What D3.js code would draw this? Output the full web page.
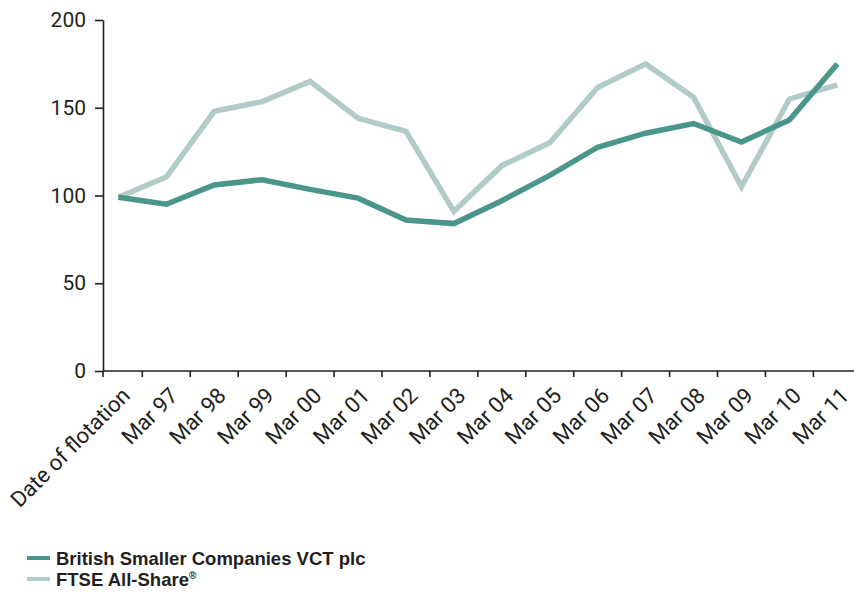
<!DOCTYPE html>
<html>
<head>
<meta charset="utf-8">
<script src="https://cdn.jsdelivr.net/npm/d3@7"></script>
<style>
  body { margin: 0; background: #fff; }
  svg { display: block; }
</style>
</head>
<body>
<div id="chart"></div>
<script>
// categories along the x axis
var categories = ["Date of flotation", "Mar 97", "Mar 98", "Mar 99", "Mar 00", "Mar 01", "Mar 02",
  "Mar 03", "Mar 04", "Mar 05", "Mar 06", "Mar 07", "Mar 08", "Mar 09", "Mar 10", "Mar 11"];

// British Smaller Companies VCT plc
var vctValues = [99, 95, 106, 109, 103.5, 98.5, 86, 84, 97, 111.5, 127.5, 135.5, 141, 130.5, 143, 175];
// FTSE All-Share
var ftseValues = [99, 110.5, 148, 153.5, 165, 144, 136.5, 91, 117, 130, 161.5, 175, 156, 105, 155, 163];

var yTicks = [0, 50, 100, 150, 200];

var seriesNames = ["British Smaller Companies VCT plc", "FTSE All-Share"];

var width = 854, height = 603;
var ink = "#231f20";
var colors = ["#4b968b", "#b1ccc8"];

var svg = d3.select("#chart")
    .append("svg")
    .attr("width", width)
    .attr("height", height);

// x: one band per category, the points sit in the middle of each band
var x = d3.scaleBand()
    .domain(categories)
    .range([94.4, 861.3])
    .padding(0);
var bw = x.bandwidth();

var y = d3.scaleLinear()
    .domain([0, 200])
    .range([371, 20]);

var axisX = 103;

// Y axis
svg.append("g")
    .attr("transform", "translate(" + axisX + ",0)")
    .call(d3.axisLeft(y).tickValues(yTicks).tickSize(8).tickPadding(9).tickSizeOuter(0))
    .call(g => g.selectAll("path, line").attr("stroke", ink).attr("stroke-width", 1.6))
    .call(g => g.selectAll("text")
        .attr("fill", ink)
        .style("font-family", "Roboto, sans-serif")
        .style("font-size", "21px"));

// X axis line + ticks at band edges
var xg = svg.append("g");
xg.append("line")
    .attr("x1", axisX).attr("x2", width)
    .attr("y1", y(0)).attr("y2", y(0))
    .attr("stroke", ink).attr("stroke-width", 1.6);

xg.selectAll(".tick")
    .data(categories)
    .enter()
    .append("line")
    .attr("x1", (d, i) => i === 0 ? axisX : x(d))
    .attr("x2", (d, i) => i === 0 ? axisX : x(d))
    .attr("y1", y(0))
    .attr("y2", y(0) + 6)
    .attr("stroke", ink).attr("stroke-width", 1.6);

xg.selectAll(".lab")
    .data(categories)
    .enter()
    .append("text")
    .attr("transform", d => "translate(" + (x(d) + bw / 2 + 13) + "," + (y(0) + 26) + ") rotate(-45)")
    .attr("text-anchor", "end")
    .attr("fill", ink)
    .style("font-family", "Roboto, sans-serif")
    .style("font-size", "22px")
    .text(d => d);

// lines
var line = d3.line()
    .x((d, i) => x(categories[i]) + bw / 2)
    .y(d => y(d));

[ftseValues, vctValues].forEach(function (vals, k) {
    svg.append("path")
        .datum(vals)
        .attr("d", line)
        .attr("fill", "none")
        .attr("stroke", k === 0 ? colors[1] : colors[0])
        .attr("stroke-width", 5.5)
        .attr("stroke-linejoin", "miter");
});

// legend
var legend = svg.append("g");
seriesNames.forEach(function (name, i) {
    var ly = 558 + i * 21;
    legend.append("line")
        .attr("x1", 27).attr("x2", 50)
        .attr("y1", ly).attr("y2", ly)
        .attr("stroke", colors[i]).attr("stroke-width", 4);
    var t = legend.append("text")
        .attr("x", 56).attr("y", ly + 6.5)
        .attr("fill", ink)
        .style("font-family", "'Liberation Sans', Arial, sans-serif")
        .style("font-weight", "bold")
        .style("font-size", "18.5px")
        .text(name);
    if (i === 1) {
        t.append("tspan")
            .attr("dy", -7)
            .style("font-size", "10px")
            .text("®");
    }
});
</script>
</body>
</html>
